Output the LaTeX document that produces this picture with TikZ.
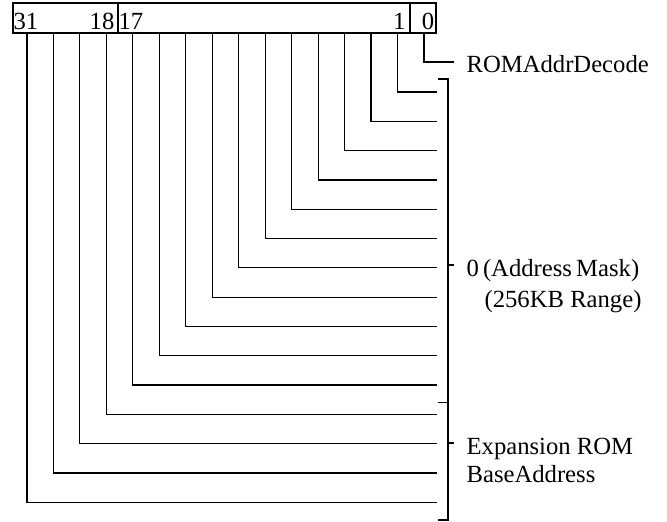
\documentclass[tikz,border=0pt]{standalone}
\usepackage{fontspec}
\setmainfont{Liberation Serif}
\begin{document}
\begin{tikzpicture}[x=0.75pt,y=-0.75pt,line width=0.9pt,
  lbl/.style={font=\fontsize{18.5}{21}\selectfont,inner sep=0pt},
  wire/.style={line width=0.9pt},
  brk/.style={line width=1.1pt}]
\useasboundingbox (0,0) rectangle (667,521);
% register box
\coordinate (boxtl) at (13,3);
\coordinate (boxbr) at (436,33);
\draw (boxtl) rectangle (boxbr);
\coordinate (d1t) at (118,3); \coordinate (d1b) at (118,33);
\coordinate (d2t) at (410,3); \coordinate (d2b) at (410,33);
\draw (d1t) -- (d1b);
\draw (d2t) -- (d2b);
% bit labels
\node[lbl,anchor=base west] (b31) at (13,29.5) {31};
\node[lbl,anchor=base east] (b18) at (115,29.5) {18};
\node[lbl,anchor=base west] (b17) at (118,29.5) {17};
\node[lbl,anchor=base east] (b1) at (406,29.5) {1};
\node[lbl,anchor=base] (b0) at (428,29.5) {0};
% bit 0 wire
\coordinate (w0t) at (424,33);
\coordinate (w0c) at (424,62);
\coordinate (w0e) at (454,62);
\draw[wire] (w0t) -- (w0c) -- (w0e);
% other wires
\foreach \i in {1,...,15}{
  \pgfmathsetmacro{\xx}{424-26.47*\i}
  \pgfmathsetmacro{\yy}{92+29.3*(\i-1)}
  \coordinate (wt\i) at (\xx,33);
  \coordinate (wc\i) at (\xx,\yy);
  \coordinate (we\i) at (437,\yy);
  \draw[wire] (wt\i) -- (wc\i) -- (we\i);
}
% bracket
\coordinate (bt0) at (438,79);
\coordinate (bt1) at (448,79);
\coordinate (bb1) at (448,520);
\coordinate (bb0) at (438,520);
\draw[brk] (bt0) -- (bt1) -- (bb1) -- (bb0);
\coordinate (bm0) at (438,402.7);
\coordinate (bm1) at (448,402.7);
\draw[brk] (bm0) -- (bm1);
\coordinate (tk1a) at (448,265);
\coordinate (tk1b) at (454,265);
\draw[brk] (tk1a) -- (tk1b);
\coordinate (tk2a) at (448,443);
\coordinate (tk2b) at (454,443);
\draw[brk] (tk2a) -- (tk2b);
% labels
\node[lbl,anchor=base west] (rom) at (466,72) {ROMAddrDecode};
\node[lbl,anchor=base west] (mask) at (466,276.7) {0\,(Address\,Mask)};
\node[lbl,anchor=base west] (range) at (484,307) {(256KB Range)};
\node[lbl,anchor=base west] (exp) at (466,454.7) {Expansion ROM};
\node[lbl,anchor=base west] (base) at (466,482) {BaseAddress};
\end{tikzpicture}
\end{document}
